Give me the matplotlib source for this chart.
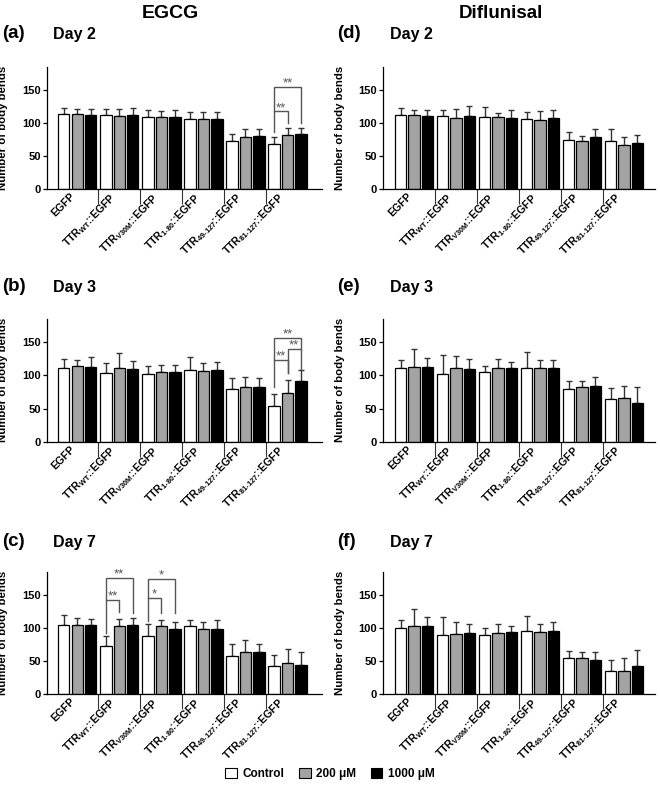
import matplotlib
matplotlib.use('Agg')
import matplotlib.pyplot as plt
from matplotlib.patches import Patch
import numpy as np

plt.rcParams['font.family'] = ['Liberation Sans', 'DejaVu Sans']
plt.rcParams['font.weight'] = 'bold'
plt.rcParams['mathtext.fontset'] = 'custom'
plt.rcParams['mathtext.rm'] = 'Liberation Sans:bold'
plt.rcParams['mathtext.bf'] = 'Liberation Sans:bold'
plt.rcParams['mathtext.it'] = 'Liberation Sans:bold'
plt.rcParams['mathtext.default'] = 'bf'

# ---------------- data ----------------
groups = ['EGFP', r'TTR$_{WT}$::EGFP', r'TTR$_{V30M}$::EGFP', r'TTR$_{1\text{-}80}$::EGFP',
          r'TTR$_{49\text{-}127}$::EGFP', r'TTR$_{81\text{-}127}$::EGFP']
treatments = ['Control', '200 μM', '1000 μM']
colors = ['white', '#a3a3a3', 'black']

# rows = groups, columns = Control / 200 / 1000
a_mean = [[113.6, 113.6, 112], [111.6, 110, 112.6], [109.6, 109.6, 109], [105.5, 105.5, 105.5], [72, 79, 80], [67.7, 81, 83]]
a_err = [[9.1, 8.1, 9.7], [10, 11, 10.5], [9.5, 8, 10], [11.5, 11, 11.5], [11, 11, 10], [11, 11, 10]]

b_mean = [[111.7, 114.7, 112.7], [103.7, 110.7, 110], [102.7, 105.7, 105.7], [108, 107, 107.7], [79.5, 83, 83], [54, 74, 92]]
b_err = [[12.5, 8.5, 14.5], [15.5, 22.5, 11], [11, 10, 9.5], [20, 12, 12.5], [16, 14, 12.6], [18.5, 18.6, 15.7]]

c_mean = [[104.2, 104.7, 104.7], [72.7, 102.2, 103.7], [87.4, 102.2, 98.6], [102.2, 98.1, 99.1], [57, 63, 64], [42.7, 47.3, 43.7]]
c_err = [[15, 10.7, 9.2], [15.3, 10.7, 10.7], [18.3, 9.1, 9.7], [10.2, 11.2, 12.2], [18, 18, 12], [16.3, 20, 20.3]]

d_mean = [[112, 111.6, 110], [110, 108, 110], [109.6, 108.6, 107.6], [106, 104.5, 107], [74.7, 73, 79], [72, 67, 69.7]]
d_err = [[11, 8.5, 9], [10, 13.5, 15], [15, 7, 12.5], [11, 13.5, 13], [11.5, 7, 12], [18, 12, 12.5]]

e_mean = [[110.7, 112.2, 113.2], [101.7, 110.7, 109.7], [104.7, 111.2, 111.2], [111.2, 111.2, 111.7], [79.5, 83, 84.5], [64, 65.4, 59]]
e_err = [[13, 27, 13], [29, 18, 15.5], [10, 13.5, 9.5], [23.7, 12, 12], [11.5, 8.6, 13], [17, 19, 24]]

f_mean = [[99.6, 102.2, 103.2], [88.5, 91.5, 93], [89.5, 92.5, 94], [95.6, 93.5, 95.6], [53.9, 54.9, 51.3], [34.6, 34.6, 42.2]]
f_err = [[12.8, 26.4, 13.2], [27.4, 16.8, 13.7], [10.2, 13.2, 9.2], [22.4, 12.2, 12.7], [11.2, 8.1, 12.2], [17.3, 20.3, 23.9]]

# significance brackets: (group, from_treat, to_treat, top, left_end, right_end, label)
a_sig = [(5, 0, 1, 117.7, 86, 100, '**'), (5, 0, 2, 154.5, 117.7, 100, '**')]
b_sig = [(5, 0, 1, 123, 83, 104, '**'), (5, 1, 2, 140, 104, 109, '**'), (5, 0, 2, 156, 123, 140, '**')]
c_sig = [(1, 0, 1, 143, 92, 124, '**'), (1, 0, 2, 176, 143, 122, '**'),
         (2, 0, 1, 145.5, 111, 123, '*'), (2, 0, 2, 175, 145.5, 122, '*')]

panels = [
    ('(a)', 'Day 2', a_mean, a_err, a_sig, 0, 0),
    ('(b)', 'Day 3', b_mean, b_err, b_sig, 1, 0),
    ('(c)', 'Day 7', c_mean, c_err, c_sig, 2, 0),
    ('(d)', 'Day 2', d_mean, d_err, [], 0, 1),
    ('(e)', 'Day 3', e_mean, e_err, [], 1, 1),
    ('(f)', 'Day 7', f_mean, f_err, [], 2, 1),
]

# ---------------- layout ----------------
W, H = 660, 790
fig = plt.figure(figsize=(W / 100, H / 100), dpi=100)

col_left = [47, 383]
col_right = [322, 655]
row_top = [67, 319, 572]
row_zero = [188.7, 441.7, 693.7]
label_y = [33, 287, 542]
col_lab_x = [2, 337]
col_day_x = [53, 390]
xlims = [(-0.72, 5.82), (-0.74, 5.74)]

offsets = [-0.32, 0.0, 0.32]
bw = 0.27

for lab, day, mean, err, sig, r, c in panels:
    l = col_left[c] / W
    w = (col_right[c] - col_left[c]) / W
    b = 1 - row_zero[r] / H
    h = (row_zero[r] - row_top[r]) / H
    ax = fig.add_axes([l, b, w, h])
    mean = np.array(mean)
    err = np.array(err)
    x = np.arange(len(groups))
    for t in range(3):
        ax.bar(x + offsets[t], mean[:, t], bw, color=colors[t], edgecolor='black', linewidth=0.9, zorder=2)
        ax.errorbar(x + offsets[t], mean[:, t], yerr=[np.zeros(len(groups)), err[:, t]],
                    fmt='none', ecolor='#333333', elinewidth=1.0, capsize=2.2, capthick=1.0, zorder=1)
    for g, i0, i1, top, yl, yr, s in sig:
        x0 = g + offsets[i0]
        x1 = g + offsets[i1]
        ax.plot([x0, x0, x1, x1], [yl, top, top, yr], color='#555555', lw=1.0, zorder=3,
                solid_joinstyle='miter')
        ax.text((x0 + x1) / 2, top + 0.5, s, ha='center', va='baseline', fontsize=9.5,
                color='#555555', fontweight='normal')
    ax.set_xlim(*xlims[c])
    ax.set_ylim(0, 185)
    ax.set_yticks([0, 50, 100, 150])
    ax.set_xticks(x)
    ax.set_xticklabels(groups, rotation=45, ha='right', fontsize=7.6, fontweight='bold')
    ax.set_xticks(np.arange(0.5, len(groups) - 1, 1.0), minor=True)
    ax.tick_params(axis='x', which='major', length=0, pad=2)
    ax.tick_params(axis='x', which='minor', length=10.5, width=0.8, direction='out', color='#333333')
    ax.tick_params(axis='y', length=3, width=0.9, pad=1.5, labelsize=8)
    for lbl in ax.get_yticklabels():
        lbl.set_fontweight('bold')
    ax.spines['top'].set_visible(False)
    ax.spines['right'].set_visible(False)
    ax.spines['left'].set_linewidth(0.9)
    ax.spines['bottom'].set_linewidth(0.9)
    ax.set_ylabel('Number of body bends', fontsize=8.2, fontweight='bold')
    ax.yaxis.set_label_coords(-0.14, 0.5)

    fig.text(col_lab_x[c] / W, 1 - label_y[r] / H, lab, ha='left', va='center', fontsize=13.5, fontweight='bold')
    fig.text(col_day_x[c] / W, 1 - (label_y[r] + 1) / H, day, ha='left', va='center', fontsize=11.5, fontweight='bold')

fig.text(170 / W, 1 - 13 / H, 'EGCG', ha='center', va='center', fontsize=14, fontweight='bold')
fig.text(501 / W, 1 - 13 / H, 'Diflunisal', ha='center', va='center', fontsize=13.5, fontweight='bold')

handles = [Patch(facecolor=colors[i], edgecolor='black', linewidth=0.8, label=treatments[i]) for i in range(3)]
fig.legend(handles=handles, loc='center', bbox_to_anchor=(0.5, 1 - 774 / H), ncol=3, frameon=False,
           prop={'size': 8.5, 'weight': 'bold'}, handlelength=1.0, handleheight=1.0,
           handletextpad=0.5, columnspacing=1.2, borderaxespad=0)

fig.savefig('out.png', dpi=100)
